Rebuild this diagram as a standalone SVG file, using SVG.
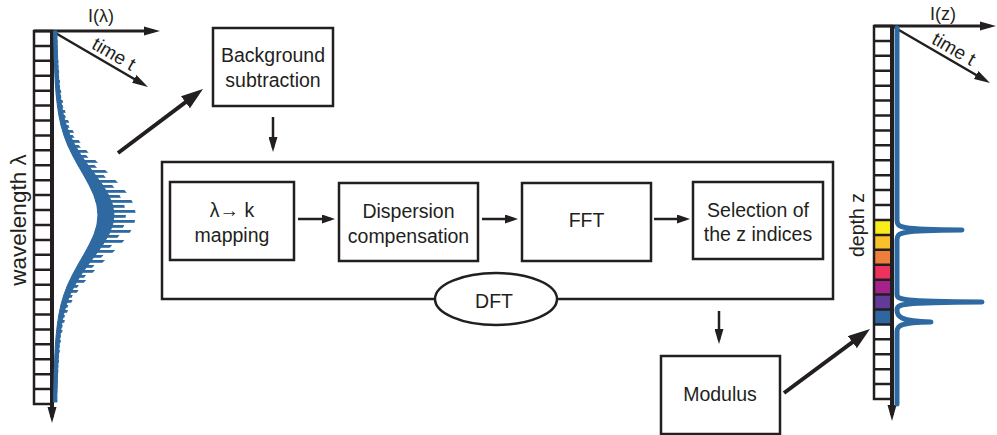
<svg xmlns="http://www.w3.org/2000/svg" width="997" height="435" viewBox="0 0 997 435">
<style>
.box{fill:none;stroke:#231f20;stroke-width:2.5}
.t{font-family:"Liberation Sans",Arial,sans-serif;font-size:19.5px;fill:#231f20;text-anchor:middle}
.ln{fill:none;stroke:#231f20;stroke-width:2.5}
.ax{fill:none;stroke:#231f20;stroke-width:3}
.thick{fill:none;stroke:#231f20;stroke-width:4}
.grid{fill:none;stroke:#231f20;stroke-width:2.5}
.blue{fill:#2e6aa1}
</style>
<defs>
<marker id="mAx" markerUnits="userSpaceOnUse" markerWidth="16" markerHeight="10" viewBox="0 0 16 10" refX="10" refY="5" orient="auto"><path d="M0,0.5L16,5L0,9.5z" fill="#231f20"/></marker>
<marker id="mSm" markerUnits="userSpaceOnUse" markerWidth="13" markerHeight="9" viewBox="0 0 13 9" refX="9" refY="4.5" orient="auto"><path d="M0,0L13,4.5L0,9z" fill="#231f20"/></marker>
<marker id="mDn" markerUnits="userSpaceOnUse" markerWidth="15" markerHeight="9" viewBox="0 0 15 9" refX="11" refY="4.5" orient="auto"><path d="M0,0L15,4.5L0,9z" fill="#231f20"/></marker>
<marker id="mBig" markerUnits="userSpaceOnUse" markerWidth="22" markerHeight="15" viewBox="0 0 22 15" refX="14" refY="7.5" orient="auto"><path d="M0,0L22,7.5L0,15z" fill="#231f20"/></marker>
<pattern id="spA" patternUnits="userSpaceOnUse" x="0" y="0" width="10" height="10"><rect width="10" height="2.8" fill="#2e6aa1"/></pattern>
<pattern id="spB" patternUnits="userSpaceOnUse" x="0" y="0" width="10" height="10"><rect y="5" width="10" height="2.8" fill="#2e6aa1"/></pattern>
</defs>
<rect width="997" height="435" fill="#fff"/>

<g id="spectrum-left">
<rect x="34" y="31" width="18" height="373" fill="#fff" class="grid"/>
<path class="grid" d="M34 45.92h18M34 60.84h18M34 75.76h18M34 90.68h18M34 105.6h18M34 120.52h18M34 135.44h18M34 150.36h18M34 165.28h18M34 180.2h18M34 195.12h18M34 210.04h18M34 224.96h18M34 239.88h18M34 254.8h18M34 269.72h18M34 284.64h18M34 299.56h18M34 314.48h18M34 329.4h18M34 344.32h18M34 359.24h18M34 374.16h18M34 389.08h18"/>
<path class="ax" d="M34,31H154" marker-end="url(#mAx)"/>
<path class="thick" d="M52,31V417" marker-end="url(#mAx)"/>
<path class="ln" d="M52,31L142.8,84" marker-end="url(#mAx)"/>
<text class="t" style="font-size:18px" x="101" y="22">I(λ)</text>
<text class="t" style="font-size:19px" transform="translate(52,31) rotate(30.26)" x="65" y="-5">time t</text>
<text class="t" style="font-size:22.5px" transform="translate(26,220) rotate(-90)">wavelength λ</text>
<path fill="url(#spA)" d="M53.6,31 L53.9,45 L54.1,55 L54.5,65 L54.9,75 L55.4,85 L56.2,95 L57.3,105 L58.8,115 L60.9,125 L63.8,135 L67.6,145 L72.4,155 L77.8,165 L83.6,175 L89.1,185 L93.8,195 L96.9,205 L98,215 L96.9,225 L93.8,235 L89.1,245 L83.6,255 L77.8,265 L72.4,275 L67.6,285 L63.8,295 L60.9,305 L58.8,315 L57.3,325 L56.2,335 L55.4,345 L54.9,355 L54.5,365 L54.1,375 L53.9,385 L53.7,395 L53.6,402 L57.1,402 L57.1,395 L57.6,385 L58,375 L58.6,365 L59.4,355 L60.3,345 L61.6,335 L63.6,325 L66.2,315 L70,305 L75.2,295 L82,285 L90.4,275 L100,265 L110.3,255 L120.2,245 L128.6,235 L134.1,225 L136,215 L134.1,205 L128.6,195 L120.2,185 L110.3,175 L100,165 L90.4,155 L82,145 L75.2,135 L70,125 L66.2,115 L63.6,105 L61.6,95 L60.3,85 L59.4,75 L58.6,65 L58,55 L57.6,45 L57.1,31 Z"/>
<path fill="url(#spB)" d="M53.6,31 L53.9,45 L54.1,55 L54.5,65 L54.9,75 L55.4,85 L56.2,95 L57.3,105 L58.8,115 L60.9,125 L63.8,135 L67.6,145 L72.4,155 L77.8,165 L83.6,175 L89.1,185 L93.8,195 L96.9,205 L98,215 L96.9,225 L93.8,235 L89.1,245 L83.6,255 L77.8,265 L72.4,275 L67.6,285 L63.8,295 L60.9,305 L58.8,315 L57.3,325 L56.2,335 L55.4,345 L54.9,355 L54.5,365 L54.1,375 L53.9,385 L53.7,395 L53.6,402 L57,402 L57,395 L57.4,385 L57.8,375 L58.3,365 L58.9,355 L59.8,345 L60.9,335 L62.7,325 L65,315 L68.3,305 L72.8,295 L78.8,285 L86.1,275 L94.5,265 L103.5,255 L112.2,245 L119.5,235 L124.3,225 L126,215 L124.3,205 L119.5,195 L112.2,185 L103.5,175 L94.5,165 L86.1,155 L78.8,145 L72.8,135 L68.3,125 L65,115 L62.7,105 L60.9,95 L59.8,85 L58.9,75 L58.3,65 L57.8,55 L57.4,45 L57,31 Z"/>
<path class="blue" stroke="#2e6aa1" stroke-width="1" stroke-linejoin="round" d="M53.6,31 L53.9,45 L54.1,55 L54.5,65 L54.9,75 L55.4,85 L56.2,95 L57.3,105 L58.8,115 L60.9,125 L63.8,135 L67.6,145 L72.4,155 L77.8,165 L83.6,175 L89.1,185 L93.8,195 L96.9,205 L98,215 L96.9,225 L93.8,235 L89.1,245 L83.6,255 L77.8,265 L72.4,275 L67.6,285 L63.8,295 L60.9,305 L58.8,315 L57.3,325 L56.2,335 L55.4,345 L54.9,355 L54.5,365 L54.1,375 L53.9,385 L53.7,395 L53.6,402 L56.9,402 L56.9,395 L57.2,385 L57.5,375 L57.9,365 L58.4,355 L59.1,345 L60.1,335 L61.5,325 L63.4,315 L66.2,305 L69.9,295 L74.9,285 L80.9,275 L87.9,265 L95.4,255 L102.6,245 L108.6,235 L112.6,225 L114,215 L112.6,205 L108.6,195 L102.6,185 L95.4,175 L87.9,165 L80.9,155 L74.9,145 L69.9,135 L66.2,125 L63.4,115 L61.5,105 L60.1,95 L59.1,85 L58.4,75 L57.9,65 L57.5,55 L57.2,45 L56.8,31 Z"/>
</g>

<g id="bg-sub">
<rect class="box" x="213" y="28" width="120" height="78"/>
<text class="t" x="273" y="62">Background</text>
<text class="t" x="273" y="87">subtraction</text>
</g>

<g id="dft-box">
<rect class="box" x="162" y="162" width="671" height="137"/>
</g>

<g id="lambda-k">
<rect class="box" x="170" y="182" width="124" height="78"/>
<text class="t" x="232" y="217">λ→ k</text>
<text class="t" x="232" y="242">mapping</text>
</g>

<g id="dispersion">
<rect class="box" x="339" y="183" width="139" height="78"/>
<text class="t" x="408.5" y="218">Dispersion</text>
<text class="t" x="408.5" y="243">compensation</text>
</g>

<g id="fft">
<rect class="box" x="522" y="183" width="129" height="78"/>
<text class="t" x="586.5" y="227">FFT</text>
</g>

<g id="selection">
<rect class="box" x="693" y="182" width="130" height="77"/>
<text class="t" x="758" y="217">Selection of</text>
<text class="t" x="758" y="241">the z indices</text>
</g>

<g id="dft-label">
<ellipse cx="496" cy="299" rx="61" ry="26" fill="#fff" stroke="#231f20" stroke-width="2.5"/>
<text class="t" x="494" y="308">DFT</text>
</g>

<g id="modulus">
<rect class="box" x="661" y="356" width="119" height="78"/>
<text class="t" x="720" y="401">Modulus</text>
</g>

<g id="depth-right">
<rect x="874" y="219.96" width="18" height="14.92" fill="#f8ec1b"/>
<rect x="874" y="234.88" width="18" height="14.92" fill="#f9c22d"/>
<rect x="874" y="249.8" width="18" height="14.92" fill="#ee7f3b"/>
<rect x="874" y="264.72" width="18" height="14.92" fill="#ef3160"/>
<rect x="874" y="279.64" width="18" height="14.92" fill="#a3228b"/>
<rect x="874" y="294.56" width="18" height="14.92" fill="#623a98"/>
<rect x="874" y="309.48" width="18" height="14.92" fill="#2e67a0"/>
<rect x="874" y="26" width="18" height="373" class="grid"/>
<path class="grid" d="M874 40.92h18M874 55.84h18M874 70.76h18M874 85.68h18M874 100.6h18M874 115.52h18M874 130.44h18M874 145.36h18M874 160.28h18M874 175.2h18M874 190.12h18M874 205.04h18M874 219.96h18M874 234.88h18M874 249.8h18M874 264.72h18M874 279.64h18M874 294.56h18M874 309.48h18M874 324.4h18M874 339.32h18M874 354.24h18M874 369.16h18M874 384.08h18"/>
<path class="ax" d="M874,26H990" marker-end="url(#mAx)"/>
<path class="thick" d="M892,26V415" marker-end="url(#mAx)"/>
<path class="ln" d="M892,26L984.8,80" marker-end="url(#mAx)"/>
<text class="t" style="font-size:18px" x="943" y="20">I(z)</text>
<text class="t" style="font-size:19px" transform="translate(892,26) rotate(30.2)" x="65" y="-5">time t</text>
<text class="t" transform="translate(864,225) rotate(-90)">depth z</text>
<path fill="none" stroke="#2e6aa1" stroke-width="5" stroke-linejoin="round" stroke-linecap="round" d="M897,28 L897,220 C897,228 900,229.5 962,230 C900,230.5 897,232 897,240 L897,294 C897,300 900,301.5 982,302 C900,302.5 897,304 897,310 C897,316 899,321.5 931,322 C899,322.5 897,326 897,332 L897,404"/>
</g>

<g id="connectors">
<path class="thick" d="M118,153L196.6,93.8" marker-end="url(#mBig)"/>
<path class="ln" d="M273,117V148" marker-end="url(#mDn)"/>
<path class="ln" d="M298,219H331" marker-end="url(#mSm)"/>
<path class="ln" d="M482,219H514" marker-end="url(#mSm)"/>
<path class="ln" d="M654,219H686" marker-end="url(#mSm)"/>
<path class="ln" d="M719,311V340" marker-end="url(#mDn)"/>
<path class="thick" d="M784,393L863.6,333.8" marker-end="url(#mBig)"/>
</g>
</svg>
